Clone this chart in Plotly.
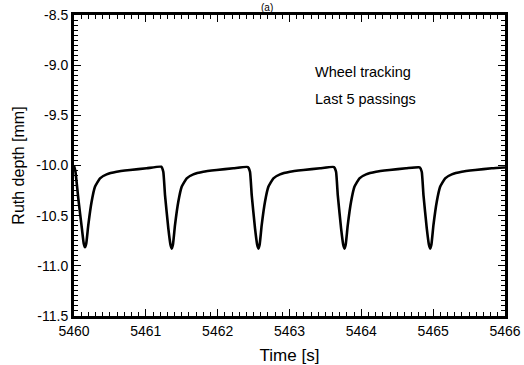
import plotly.graph_objects as go

time_s = [
    5460.000, 5460.020, 5460.060, 5460.110, 5460.136, 5460.153,
    5460.170, 5460.199, 5460.245, 5460.292, 5460.362, 5460.454, 5460.593, 5460.780, 5461.011,
    5461.214, 5461.243, 5461.267, 5461.313, 5461.343, 5461.360,
    5461.377, 5461.406, 5461.452, 5461.499, 5461.569, 5461.661, 5461.800, 5461.987, 5462.218,
    5462.421, 5462.450, 5462.474, 5462.520, 5462.550, 5462.567,
    5462.584, 5462.613, 5462.659, 5462.706, 5462.776, 5462.868, 5463.007, 5463.194, 5463.425,
    5463.619, 5463.648, 5463.672, 5463.718, 5463.748, 5463.765,
    5463.782, 5463.811, 5463.857, 5463.904, 5463.974, 5464.066, 5464.205, 5464.392, 5464.623,
    5464.812, 5464.841, 5464.865, 5464.911, 5464.941, 5464.958,
    5464.975, 5465.004, 5465.050, 5465.097, 5465.167, 5465.259, 5465.398, 5465.585, 5465.816,
    5466.000,
]
rut_depth_mm = [
    -10.000, -10.060, -10.330, -10.630, -10.780, -10.815,
    -10.780, -10.594, -10.361, -10.212, -10.128, -10.088, -10.062, -10.045, -10.028,
    -10.012, -10.062, -10.295, -10.627, -10.790, -10.828,
    -10.790, -10.594, -10.361, -10.212, -10.128, -10.088, -10.062, -10.045, -10.028,
    -10.015, -10.062, -10.295, -10.627, -10.790, -10.828,
    -10.790, -10.594, -10.361, -10.212, -10.128, -10.088, -10.062, -10.045, -10.028,
    -10.015, -10.062, -10.295, -10.627, -10.790, -10.828,
    -10.790, -10.594, -10.361, -10.212, -10.128, -10.088, -10.062, -10.045, -10.028,
    -10.018, -10.062, -10.295, -10.627, -10.790, -10.828,
    -10.790, -10.594, -10.361, -10.212, -10.128, -10.088, -10.062, -10.045, -10.028,
    -10.020,
]

x_ticks = [5460, 5461, 5462, 5463, 5464, 5465, 5466]
y_ticks = [-8.5, -9.0, -9.5, -10.0, -10.5, -11.0, -11.5]

font_family = "Liberation Sans, Arial, sans-serif"

fig = go.Figure()
fig.add_trace(go.Scatter(
    x=time_s, y=rut_depth_mm, mode="lines",
    line=dict(color="black", width=2.6, shape="spline", smoothing=0.4),
    showlegend=False, hoverinfo="skip",
))

axis_common = dict(
    showgrid=False, zeroline=False,
    showline=True, linecolor="black", linewidth=3,
    mirror="allticks", ticks="inside", ticklen=7, tickwidth=1.2, tickcolor="black",
    tickfont=dict(family=font_family, size=14, color="black"),
    automargin=False,
)

fig.update_xaxes(
    range=[5460, 5466], tickvals=x_ticks, ticktext=[str(v) for v in x_ticks],
    minor=dict(dtick=0.1, ticks="inside", ticklen=4, tickwidth=1, tickcolor="black"),
    title=dict(text="Time [s]", font=dict(family=font_family, size=17, color="black"), standoff=12),
    **axis_common,
)
fig.update_yaxes(
    range=[-11.5, -8.5], tickvals=y_ticks, ticktext=[f"{v:.1f}" for v in y_ticks],
    minor=dict(dtick=0.05, ticks="inside", ticklen=4, tickwidth=1, tickcolor="black"),
    title=dict(text="Ruth depth [mm]", font=dict(family=font_family, size=16, color="black"), standoff=8),
    **axis_common,
)

fig.add_annotation(
    x=0.555, y=0.81, xref="paper", yref="paper", xanchor="left", yanchor="middle",
    text="Wheel tracking", showarrow=False,
    font=dict(family=font_family, size=14.5, color="black"),
)
fig.add_annotation(
    x=0.555, y=0.72, xref="paper", yref="paper", xanchor="left", yanchor="middle",
    text="Last 5 passings", showarrow=False,
    font=dict(family=font_family, size=14.5, color="black"),
)
fig.add_annotation(
    x=0.447, y=1.0, xref="paper", yref="paper", xanchor="center", yanchor="bottom",
    yshift=1, text="(a)", showarrow=False, borderpad=0,
    font=dict(family=font_family, size=10, color="black"),
)

fig.update_layout(
    width=524, height=365,
    margin=dict(l=74, r=19, t=15, b=49, autoexpand=False),
    paper_bgcolor="white", plot_bgcolor="white",
    font=dict(family=font_family, color="black"),
)

fig.write_html("out.html")
